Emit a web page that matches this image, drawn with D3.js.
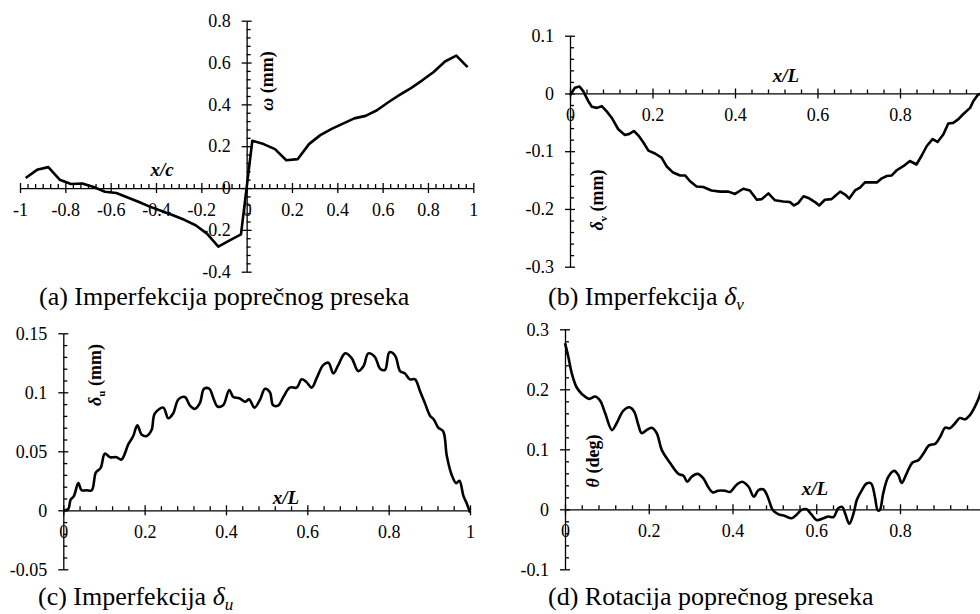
<!DOCTYPE html>
<html>
<head>
<meta charset="utf-8">
<script src="https://cdn.jsdelivr.net/npm/d3@7"></script>
<style>
  body { margin: 0; background: #fff; }
  svg text { font-family: "Liberation Serif", "Times New Roman", serif; fill: #000; }
</style>
</head>
<body>
<svg id="chart" width="980" height="614"></svg>
<script>
// (a) cross-section imperfection, omega vs x/c
var aX = [-0.975, -0.925, -0.875, -0.825, -0.775, -0.725, -0.675, -0.625, -0.575, -0.525,
          -0.475, -0.425, -0.375, -0.325, -0.275, -0.225, -0.175, -0.125, -0.075, -0.025,
           0.025,  0.075,  0.125,  0.175,  0.225,  0.275,  0.325,  0.375,  0.425,  0.475,
           0.525,  0.575,  0.625,  0.675,  0.725,  0.775,  0.825,  0.875,  0.925,  0.975];
var aY = [0.048, 0.087, 0.100, 0.040, 0.019, 0.022, 0.005, -0.018, -0.024, -0.045,
          -0.067, -0.090, -0.110, -0.130, -0.152, -0.178, -0.218, -0.280, -0.250, -0.222,
           0.226, 0.210, 0.186, 0.133, 0.138, 0.210, 0.253, 0.283, 0.308, 0.333,
           0.345, 0.372, 0.410, 0.445, 0.478, 0.515, 0.555, 0.605, 0.633, 0.578];

// (b) imperfection delta_v
var bX = [0, 0.012, 0.023, 0.032, 0.044, 0.053, 0.065, 0.077, 0.089, 0.101, 0.117, 0.133, 0.144,
          0.155, 0.166, 0.178, 0.19, 0.206, 0.222, 0.234, 0.25, 0.267, 0.279, 0.291, 0.307, 0.323,
          0.343, 0.364, 0.384, 0.4, 0.42, 0.436, 0.453, 0.465, 0.481, 0.497, 0.517, 0.533, 0.543,
          0.553, 0.566, 0.578, 0.594, 0.604, 0.618, 0.634, 0.642, 0.655, 0.667, 0.677, 0.691, 0.703,
          0.715, 0.731, 0.744, 0.756, 0.768, 0.78, 0.792, 0.808, 0.824, 0.84, 0.853, 0.865, 0.879,
          0.891, 0.905, 0.917, 0.929, 0.941, 0.953, 0.97, 0.978, 0.988, 0.996];
var bY = [-0.003, 0.010, 0.012, 0.004, -0.013, -0.023, -0.025, -0.022, -0.031, -0.042, -0.062, -0.072, -0.070,
          -0.065, -0.073, -0.085, -0.099, -0.104, -0.111, -0.126, -0.137, -0.142, -0.142, -0.152, -0.161, -0.162,
          -0.168, -0.170, -0.170, -0.174, -0.165, -0.168, -0.184, -0.183, -0.173, -0.185, -0.187, -0.188, -0.194,
          -0.190, -0.178, -0.181, -0.188, -0.194, -0.184, -0.183, -0.178, -0.170, -0.175, -0.182, -0.168, -0.163,
          -0.154, -0.154, -0.154, -0.147, -0.143, -0.142, -0.133, -0.126, -0.117, -0.123, -0.107, -0.091, -0.079,
          -0.084, -0.071, -0.052, -0.051, -0.045, -0.036, -0.025, -0.013, -0.003, 0.0];

// (c) imperfection delta_u
var cX = [0, 0.012, 0.018, 0.026, 0.037, 0.045, 0.057, 0.07, 0.08, 0.092, 0.102, 0.115, 0.131, 0.143,
          0.16, 0.172, 0.182, 0.193, 0.205, 0.217, 0.225, 0.246, 0.258, 0.27, 0.283, 0.299, 0.311, 0.324,
          0.336, 0.346, 0.359, 0.369, 0.379, 0.393, 0.408, 0.418, 0.433, 0.447, 0.457, 0.47, 0.484, 0.496,
          0.508, 0.516, 0.529, 0.541, 0.557, 0.574, 0.586, 0.597, 0.611, 0.623, 0.639, 0.652, 0.664, 0.676,
          0.693, 0.709, 0.725, 0.738, 0.75, 0.766, 0.779, 0.791, 0.802, 0.816, 0.828, 0.84, 0.852, 0.865,
          0.877, 0.889, 0.902, 0.911, 0.922, 0.934, 0.943, 0.955, 0.966, 0.974, 0.984, 0.993, 1.0];
var cY = [0, 0.001, 0.009, 0.012, 0.023, 0.017, 0.017, 0.017, 0.032, 0.036, 0.048, 0.045, 0.045, 0.043,
          0.056, 0.063, 0.072, 0.064, 0.063, 0.068, 0.082, 0.087, 0.078, 0.082, 0.094, 0.096, 0.089, 0.086,
          0.091, 0.103, 0.103, 0.095, 0.088, 0.089, 0.102, 0.096, 0.095, 0.092, 0.094, 0.087, 0.094, 0.103,
          0.100, 0.089, 0.089, 0.096, 0.104, 0.104, 0.111, 0.109, 0.104, 0.112, 0.123, 0.125, 0.116, 0.123,
          0.133, 0.129, 0.118, 0.122, 0.133, 0.130, 0.120, 0.119, 0.134, 0.131, 0.118, 0.116, 0.111, 0.111,
          0.101, 0.091, 0.080, 0.077, 0.070, 0.067, 0.046, 0.030, 0.023, 0.025, 0.012, 0.005, -0.002];

// (d) rotation theta
var dX = [0, 0.008, 0.016, 0.028, 0.042, 0.058, 0.072, 0.084, 0.096, 0.112, 0.123, 0.139, 0.154, 0.165,
          0.175, 0.183, 0.195, 0.207, 0.219, 0.231, 0.251, 0.271, 0.283, 0.292, 0.302, 0.316, 0.33, 0.342,
          0.353, 0.366, 0.382, 0.394, 0.41, 0.423, 0.438, 0.451, 0.462, 0.474, 0.484, 0.496, 0.509, 0.525,
          0.541, 0.553, 0.565, 0.577, 0.589, 0.601, 0.617, 0.629, 0.641, 0.653, 0.662, 0.669, 0.679, 0.689,
          0.697, 0.709, 0.72, 0.731, 0.74, 0.747, 0.752, 0.76, 0.772, 0.786, 0.796, 0.804, 0.816, 0.83,
          0.844, 0.856, 0.87, 0.884, 0.896, 0.908, 0.919, 0.931, 0.943, 0.955, 0.967, 0.979, 0.991, 1.0];
var dY = [0.277, 0.254, 0.227, 0.203, 0.191, 0.184, 0.188, 0.181, 0.160, 0.132, 0.143, 0.164, 0.170, 0.163,
          0.141, 0.127, 0.132, 0.136, 0.127, 0.099, 0.077, 0.059, 0.056, 0.046, 0.054, 0.059, 0.052, 0.037,
          0.028, 0.031, 0.031, 0.029, 0.041, 0.046, 0.038, 0.021, 0.032, 0.033, 0.021, -0.001, -0.008, -0.011,
          -0.015, -0.009, -0.001, 0.000, -0.009, -0.018, -0.015, -0.012, -0.013, 0.002, 0.004, -0.007, -0.024, -0.007,
          0.016, 0.032, 0.043, 0.043, 0.021, -0.002, -0.001, 0.027, 0.054, 0.064, 0.057, 0.044, 0.060, 0.078,
          0.082, 0.093, 0.107, 0.109, 0.121, 0.136, 0.135, 0.143, 0.152, 0.150, 0.157, 0.171, 0.191, 0.215];

// tick values (major) and the labels shown for them
var aXTicks = [-1, -0.8, -0.6, -0.4, -0.2, 0, 0.2, 0.4, 0.6, 0.8, 1];
var aYTicks = [-0.4, -0.2, 0, 0.2, 0.4, 0.6, 0.8];
var lTicks = [0, 0.2, 0.4, 0.6, 0.8, 1];
var lLabels = [0, 0.2, 0.4, 0.6, 0.8];   // panels (b),(d): the "1" falls past the page edge
var bYTicks = [-0.3, -0.2, -0.1, 0, 0.1];
var cYTicks = [-0.05, 0, 0.05, 0.1, 0.15];
var dYTicks = [-0.1, 0, 0.1, 0.2, 0.3];

var svg = d3.select("#chart");

function zip(xs, ys) {
	return xs.map(function(x, i) { return [x, ys[i]]; });
}

function minorValues(n, major) {
	// n subdivisions between consecutive major ticks
	var out = [];
	for (var i = 0; i < major.length - 1; i++) {
		var a = major[i], b = major[i + 1];
		for (var k = 1; k < n; k++) out.push(a + (b - a) * k / n);
	}
	return out;
}

function drawPanel(p) {
	var x = d3.scaleLinear().domain(p.xDomain).range(p.xRange);
	var y = d3.scaleLinear().domain(p.yDomain).range(p.yRange);
	var g = svg.append("g");
	var fmt = function(d) { return String(d); };
	var xLabels = p.xLabels || p.xTicks;

	/* x axis: labels + lower half of major ticks */
	var gx = g.append("g").attr("transform", "translate(0," + y(0) + ")");
	gx.call(d3.axisBottom(x).tickValues(p.xTicks)
		.tickFormat(function(d) { return xLabels.indexOf(d) >= 0 ? fmt(d) : ""; })
		.tickSizeInner(5).tickSizeOuter(0).tickPadding(10));
	gx.append("g").call(d3.axisTop(x).tickValues(p.xTicks).tickFormat("").tickSize(5).tickSizeOuter(0))
		.select(".domain").remove();
	gx.append("g").call(d3.axisTop(x).tickValues(minorValues(p.xMinor, p.xTicks)).tickFormat("").tickSize(4).tickSizeOuter(0))
		.select(".domain").remove();

	/* y axis */
	var gy = g.append("g").attr("transform", "translate(" + x(0) + ",0)");
	gy.call(d3.axisLeft(y).tickValues(p.yTicks).tickFormat(fmt)
		.tickSizeInner(5).tickSizeOuter(0).tickPadding(11));
	gy.append("g").call(d3.axisRight(y).tickValues(p.yTicks).tickFormat("").tickSize(5).tickSizeOuter(0))
		.select(".domain").remove();
	gy.append("g").call(d3.axisRight(y).tickValues(minorValues(p.yMinor, p.yTicks)).tickFormat("").tickSize(4).tickSizeOuter(0))
		.select(".domain").remove();

	g.selectAll(".tick text").attr("font-size", "18px")
		.style("font-family", "'Liberation Serif', 'Times New Roman', serif");
	g.selectAll(".domain, .tick line").attr("stroke", "#000").attr("stroke-width", 1.3);

	var line = d3.line()
		.x(function(d) { return x(d[0]); })
		.y(function(d) { return y(d[1]); })
		.curve(p.curve);
	g.append("path")
		.datum(zip(p.xs, p.ys))
		.attr("d", line)
		.attr("fill", "none")
		.attr("stroke", "#000")
		.attr("stroke-width", 2.6)
		.attr("stroke-linejoin", "round");

	/* axis titles */
	var xt = g.append("text")
		.attr("x", p.xTitlePos[0]).attr("y", p.xTitlePos[1])
		.attr("text-anchor", "middle")
		.attr("font-size", "19px").attr("font-weight", "bold").attr("font-style", "italic");
	xt.append("tspan").text("x/");
	xt.append("tspan").text(p.xVar);

	var yt = g.append("text")
		.attr("transform", "translate(" + p.yTitlePos[0] + "," + p.yTitlePos[1] + ") rotate(-90)")
		.attr("text-anchor", "middle")
		.attr("font-size", "18px").attr("font-weight", "bold");
	yt.append("tspan").attr("font-style", "italic").text(p.ySym);
	if (p.ySub) yt.append("tspan").attr("font-size", "11px").attr("dy", "4").text(p.ySub);
	yt.append("tspan").attr("dy", p.ySub ? "-4" : "0").text(" (" + p.yUnit + ")");

	/* caption */
	var cap = g.append("text")
		.attr("x", p.capPos[0]).attr("y", p.capPos[1])
		.attr("font-size", "26px");
	cap.append("tspan").text(p.caption);
	if (p.capSym) {
		cap.append("tspan").attr("font-style", "italic").text(p.capSym);
		cap.append("tspan").attr("font-style", "italic").attr("font-size", "17px").attr("dy", "5").text(p.capSub);
	}
}

drawPanel({
	xDomain: [-1, 1], xRange: [20, 473.3],
	yDomain: [-0.4, 0.8], yRange: [271.7, 20.7],
	xTicks: aXTicks, yTicks: aYTicks, xMinor: 6, yMinor: 5,
	xs: aX, ys: aY, curve: d3.curveLinear,
	xVar: "c", xTitlePos: [162, 176],
	ySym: "\u03c9", ySub: null, yUnit: "mm", yTitlePos: [273, 81],
	caption: "(a) Imperfekcija popre\u010dnog preseka", capPos: [39, 305]
});

drawPanel({
	xDomain: [0, 1], xRange: [570, 982.5],
	yDomain: [-0.3, 0.1], yRange: [266.7, 35.7],
	xTicks: lTicks, xLabels: lLabels, yTicks: bYTicks, xMinor: 5, yMinor: 5,
	xs: bX, ys: bY, curve: d3.curveLinear,
	xVar: "L", xTitlePos: [786, 82],
	ySym: "\u03b4", ySub: "v", yUnit: "mm", yTitlePos: [603, 200],
	caption: "(b) Imperfekcija ", capSym: "\u03b4", capSub: "v", capPos: [548, 305]
});

drawPanel({
	xDomain: [0, 1], xRange: [63.3, 470],
	yDomain: [-0.05, 0.15], yRange: [569.3, 333.3],
	xTicks: lTicks, yTicks: cYTicks, xMinor: 5, yMinor: 5,
	xs: cX, ys: cY, curve: d3.curveCatmullRom,
	xVar: "L", xTitlePos: [286, 504],
	ySym: "\u03b4", ySub: "u", yUnit: "mm", yTitlePos: [101, 375],
	caption: "(c) Imperfekcija ", capSym: "\u03b4", capSub: "u", capPos: [38, 605]
});

drawPanel({
	xDomain: [0, 1], xRange: [565, 983.75],
	yDomain: [-0.1, 0.3], yRange: [569.3, 329.3],
	xTicks: lTicks, xLabels: lLabels, yTicks: dYTicks, xMinor: 5, yMinor: 5,
	xs: dX, ys: dY, curve: d3.curveCatmullRom,
	xVar: "L", xTitlePos: [815, 495],
	ySym: "\u03b8", ySub: null, yUnit: "deg", yTitlePos: [599, 461],
	caption: "(d) Rotacija popre\u010dnog preseka", capPos: [548, 605]
});
</script>
</body>
</html>
